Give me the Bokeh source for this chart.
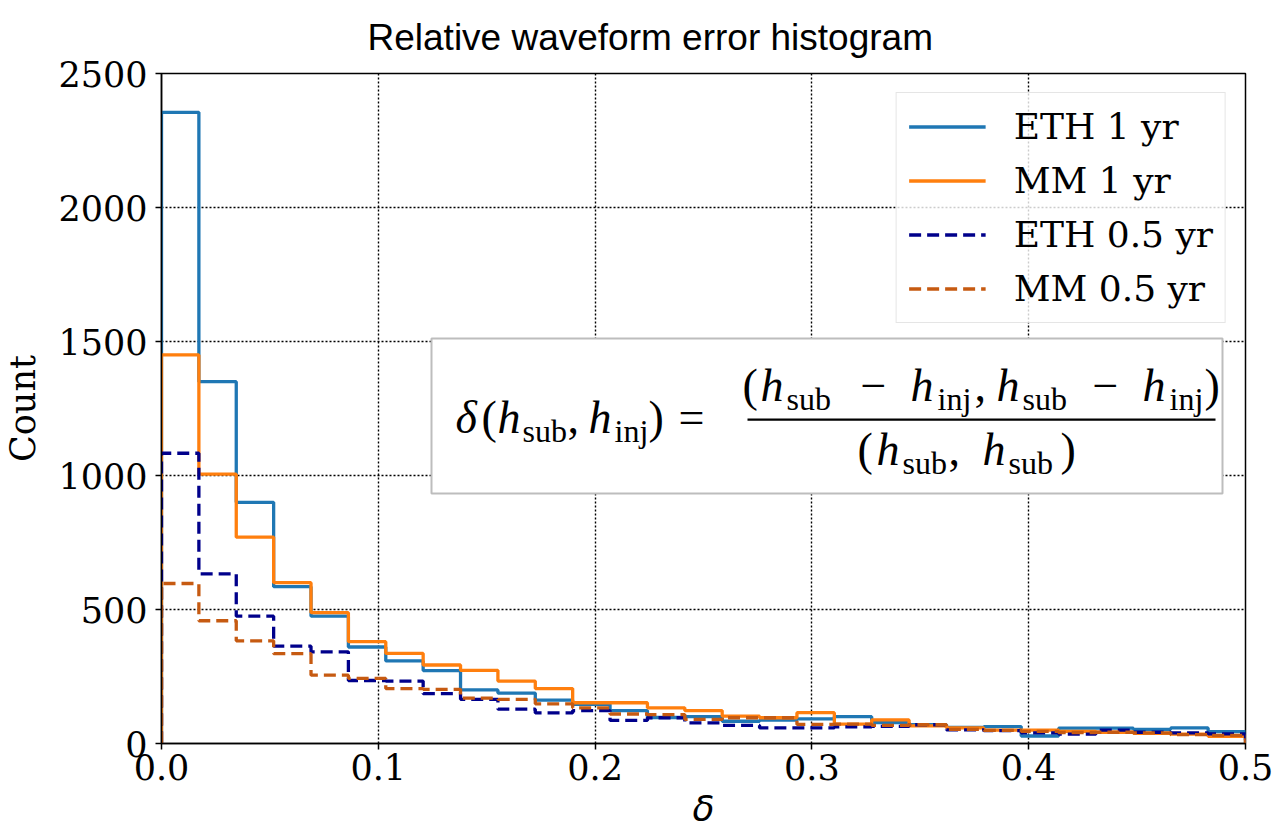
import numpy as np
from bokeh.plotting import figure
from bokeh.models import FixedTicker, NumeralTickFormatter, BoxAnnotation, Label
from bokeh.embed import file_html
from bokeh.resources import INLINE

# ---------------- data (histogram counts per bin, 29 bins on [0, 0.5]) ----------------
x_min, x_max = 0.0, 0.5
eth_1yr = [2355, 1350, 900, 585, 475, 360, 308, 272, 200, 188, 162, 146, 123, 97, 100,
           83, 87, 92, 100, 78, 70, 60, 63, 28, 57, 57, 53, 58, 44]
mm_1yr = [1450, 1005, 770, 600, 488, 380, 336, 293, 273, 233, 205, 152, 152, 133, 123,
          102, 96, 115, 72, 88, 66, 58, 50, 50, 45, 42, 38, 35, 27]
eth_05yr = [1083, 633, 475, 363, 342, 235, 233, 186, 165, 128, 114, 123, 86, 96, 77,
            68, 58, 58, 62, 64, 70, 51, 48, 40, 35, 50, 42, 40, 36]
mm_05yr = [597, 458, 383, 335, 255, 243, 205, 202, 169, 165, 148, 133, 110, 108, 90,
           96, 96, 71, 72, 68, 70, 53, 49, 45, 41, 42, 40, 33, 30]
series_labels = ["ETH 1 yr", "MM 1 yr", "ETH 0.5 yr", "MM 0.5 yr"]
x_ticks = [0.0, 0.1, 0.2, 0.3, 0.4, 0.5]
y_ticks = [0, 500, 1000, 1500, 2000, 2500]
title_text = "Relative waveform error histogram"

edges = np.linspace(x_min, x_max, len(eth_1yr) + 1)


def step(vals):
    xs = np.repeat(edges, 2)
    ys = np.concatenate([[0], np.repeat(np.asarray(vals, dtype=float), 2), [0]])
    return xs, ys


p = figure(width=1279, height=831, x_range=(0, 0.5), y_range=(0, 2500),
           output_backend="svg", toolbar_location=None,
           min_border_left=161, min_border_right=34, min_border_top=73, min_border_bottom=88,
           background_fill_color="white", border_fill_color="white")

# title
p.title.text = title_text
p.title.text_font = "Liberation Sans"
p.title.text_font_size = "37px"
p.title.text_font_style = "normal"
p.title.text_color = "black"
p.title.align = "left"
p.title.vertical_align = "top"
p.title.offset = 206
p.title.standoff = 27

# frame
p.outline_line_color = "black"
p.outline_line_width = 1.5
p.outline_line_alpha = 1

# axes
for ax in (p.xaxis, p.yaxis):
    ax.axis_line_color = "black"
    ax.axis_line_width = 1.5
    ax.major_tick_line_color = "black"
    ax.major_tick_line_width = 1.5
    ax.major_tick_in = 0
    ax.major_tick_out = 6
    ax.minor_tick_line_color = None
    ax.major_label_text_font = "DejaVu Serif"
    ax.major_label_text_font_size = "35px"
    ax.major_label_text_color = "black"

p.xaxis.ticker = FixedTicker(ticks=x_ticks)
p.xaxis.formatter = NumeralTickFormatter(format="0.0")
p.yaxis.ticker = FixedTicker(ticks=y_ticks)
p.xaxis.major_label_standoff = 4
p.yaxis.major_label_standoff = 8

p.xaxis.axis_label = "δ"
p.xaxis.axis_label_text_font = "DejaVu Sans"
p.xaxis.axis_label_text_font_style = "italic"
p.xaxis.axis_label_text_font_size = "36px"
p.xaxis.axis_label_standoff = 5
p.xaxis.axis_label_text_color = "black"

p.yaxis.axis_label = "Count"
p.yaxis.axis_label_text_font = "DejaVu Serif"
p.yaxis.axis_label_text_font_style = "normal"
p.yaxis.axis_label_text_font_size = "35px"
p.yaxis.axis_label_standoff = 12
p.yaxis.axis_label_text_color = "black"

# grid
for g in (p.xgrid, p.ygrid):
    g.grid_line_color = "black"
    g.grid_line_dash = "2 2"
    g.grid_line_width = 1.4
    g.grid_line_alpha = 1

# histograms (step outlines)
colors = ["#1f77b4", "#ff7f0e", "#00008b", "#c65a11"]
dashes = ["solid", "solid", "12 6", "12 6"]
for vals, lab, c, d in zip([eth_1yr, mm_1yr, eth_05yr, mm_05yr], series_labels, colors, dashes):
    xs, ys = step(vals)
    p.line(xs, ys, line_color=c, line_width=3.3, line_dash=d, legend_label=lab)

# legend
lg = p.legend[0]
lg.location = "top_right"
lg.margin = 19
lg.padding = 12
lg.spacing = 11
lg.label_height = 43
lg.glyph_height = 43
lg.glyph_width = 77
lg.label_standoff = 28
lg.label_text_font = "DejaVu Serif"
lg.label_text_font_size = "36px"
lg.label_text_color = "black"
lg.border_line_color = "#cccccc"
lg.border_line_width = 1.5
lg.background_fill_color = "white"
lg.background_fill_alpha = 0.8


# ---------------- formula box (positioned in axes fractions) ----------------
def fx(px):
    return (px - 161) / 1084 * 0.5


def fy(py):
    return (743 - py) / 670 * 2500


def piece(txt, px, py, size, italic=False, font="Liberation Serif"):
    # Bokeh's alphabetic anchor sits a bit below the glyph baseline; compensate
    p.add_layout(Label(x=fx(px), y=fy(py - 0.4 * size), text=txt, text_font=font,
                       text_font_size=f"{size}px",
                       text_font_style="italic" if italic else "normal",
                       text_color="black", text_baseline="alphabetic", text_align="left"))


box = BoxAnnotation(left=fx(431), right=fx(1222), top=fy(338), bottom=fy(493),
                    fill_color="white", fill_alpha=1.0, line_color="#bdbdbd", line_width=2,
                    line_alpha=1)
p.add_layout(box)

bar = BoxAnnotation(left=fx(747), right=fx(1215), top=fy(418), bottom=fy(420.2),
                    fill_color="black", fill_alpha=1.0, line_color=None)
p.add_layout(bar)

F = 46
S = 32

# left side: δ(h_sub, h_inj) =
base, sub = 435, 443
piece("δ", 455, base, F, True)
piece("(", 481, base, F)
piece("h", 497, base, F, True)
piece("sub", 522, sub, S)
piece(",", 567, base, F)
piece("h", 588, base, F, True)
piece("inj", 614, sub, S)
piece(")", 648, base, F)
piece("=", 678, base, F)

# numerator
base, sub = 403, 411
piece("(", 742, base, F)
piece("h", 760, base, F, True)
piece("sub", 786, sub, S)
piece("\u2212", 860, base, F)
piece("h", 910, base, F, True)
piece("inj", 937, sub, S)
piece(",", 974, base, F)
piece("h", 996, base, F, True)
piece("sub", 1022, sub, S)
piece("\u2212", 1092, base, F)
piece("h", 1142, base, F, True)
piece("inj", 1169, sub, S)
piece(")", 1204, base, F)

# denominator
base, sub = 467, 475
piece("(", 857, base, F)
piece("h", 876, base, F, True)
piece("sub", 902, sub, S)
piece(",", 948, base, F)
piece("h", 982, base, F, True)
piece("sub", 1008, sub, S)
piece(")", 1060, base, F)

open("out.html", "w").write(file_html(p, INLINE))
